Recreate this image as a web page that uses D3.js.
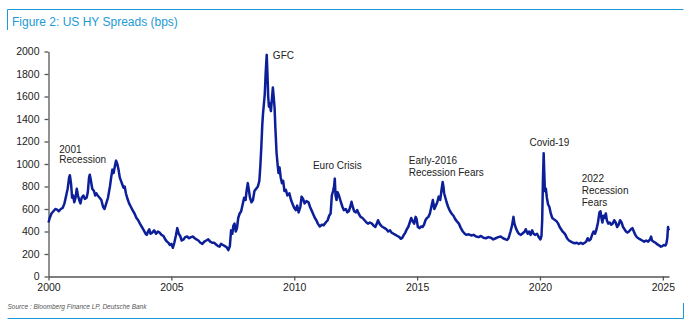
<!DOCTYPE html>
<html><head><meta charset="utf-8">
<script src="https://cdn.jsdelivr.net/npm/d3@7"></script>
<style>
html,body{margin:0;padding:0;background:#fff;}
svg{display:block;font-family:Arial,"Liberation Sans",sans-serif;}
</style></head>
<body><svg id="c" width="692" height="329"></svg>
<script>
// decimal year values
const years = [
2000.00,2000.05,2000.12,2000.20,2000.28,2000.35,2000.42,2000.50,2000.58,2000.65,2000.72,2000.78,2000.84,2000.87,2000.92,2000.96,
2001.00,2001.05,2001.10,2001.15,2001.20,2001.25,2001.30,2001.35,2001.42,2001.48,2001.55,2001.60,2001.65,2001.68,2001.72,2001.78,2001.85,2001.90,2001.95,
2002.00,2002.08,2002.15,2002.22,2002.28,2002.35,2002.42,2002.50,2002.55,2002.60,2002.65,2002.70,2002.75,2002.80,2002.85,2002.90,2002.95,
2003.00,2003.05,2003.10,2003.15,2003.20,2003.28,2003.35,2003.42,2003.50,2003.58,2003.65,2003.72,2003.80,2003.88,2003.95,
2004.00,2004.05,2004.10,2004.15,2004.22,2004.30,2004.38,2004.45,2004.52,2004.60,2004.68,2004.75,2004.82,2004.88,2004.94,
2005.00,2005.06,2005.12,2005.18,2005.24,2005.30,2005.36,2005.42,2005.50,2005.56,2005.64,2005.72,2005.80,2005.88,2005.95,
2006.02,2006.10,2006.18,2006.26,2006.34,2006.42,2006.50,2006.58,2006.66,2006.74,2006.82,2006.90,2006.96,
2007.02,2007.10,2007.18,2007.25,2007.32,2007.38,2007.43,2007.48,2007.52,2007.57,2007.62,2007.67,2007.72,2007.78,2007.84,2007.90,2007.96,
2008.02,2008.06,2008.11,2008.16,2008.20,2008.26,2008.32,2008.38,2008.45,2008.52,2008.58,2008.62,2008.66,2008.70,2008.73,2008.76,2008.80,2008.84,2008.88,2008.91,2008.94,2008.97,
2009.00,2009.05,2009.10,2009.13,2009.17,2009.20,2009.23,2009.28,2009.33,2009.36,2009.40,2009.45,2009.50,2009.55,2009.60,2009.66,2009.72,2009.80,2009.87,2009.94,
2010.00,2010.07,2010.12,2010.18,2010.25,2010.30,2010.36,2010.42,2010.50,2010.58,2010.64,2010.70,2010.76,2010.84,2010.90,2010.96,
2011.04,2011.12,2011.20,2011.28,2011.36,2011.42,2011.48,2011.53,2011.58,2011.62,2011.65,2011.68,2011.72,2011.76,2011.82,2011.90,2011.96,
2012.02,2012.10,2012.16,2012.22,2012.28,2012.33,2012.38,2012.44,2012.50,2012.56,2012.62,2012.70,2012.78,2012.86,2012.94,
2013.00,2013.08,2013.16,2013.24,2013.30,2013.36,2013.41,2013.47,2013.54,2013.60,2013.68,2013.75,2013.82,2013.90,2013.96,
2014.04,2014.12,2014.20,2014.28,2014.34,2014.40,2014.46,2014.52,2014.58,2014.64,2014.70,2014.76,2014.82,2014.88,2014.94,2014.98,
2015.03,2015.10,2015.16,2015.22,2015.28,2015.34,2015.40,2015.46,2015.52,2015.58,2015.64,2015.70,2015.76,2015.82,2015.88,2015.94,
2016.00,2016.04,2016.07,2016.10,2016.15,2016.20,2016.26,2016.32,2016.40,2016.48,2016.55,2016.62,2016.70,2016.78,2016.86,2016.94,
2017.00,2017.10,2017.20,2017.30,2017.40,2017.50,2017.60,2017.70,2017.80,2017.90,
2018.00,2018.10,2018.20,2018.30,2018.40,2018.50,2018.60,2018.66,2018.72,2018.80,2018.86,2018.92,2018.96,
2019.02,2019.08,2019.14,2019.22,2019.30,2019.38,2019.42,2019.50,2019.56,2019.62,2019.68,2019.74,2019.80,2019.88,2019.95,
2020.02,2020.06,2020.09,2020.12,2020.15,2020.17,2020.20,2020.24,2020.28,2020.33,2020.38,2020.44,2020.50,2020.56,2020.62,2020.68,2020.74,2020.80,2020.86,2020.92,2020.97,
2021.04,2021.10,2021.18,2021.26,2021.34,2021.42,2021.50,2021.58,2021.66,2021.74,2021.82,2021.88,2021.94,
2022.00,2022.06,2022.12,2022.18,2022.24,2022.30,2022.36,2022.42,2022.46,2022.50,2022.54,2022.58,2022.62,2022.68,2022.72,2022.78,2022.84,2022.90,2022.96,
2023.02,2023.08,2023.14,2023.20,2023.26,2023.32,2023.38,2023.44,2023.50,2023.56,2023.62,2023.70,2023.76,2023.82,2023.88,2023.94,
2024.00,2024.08,2024.16,2024.24,2024.32,2024.40,2024.48,2024.52,2024.56,2024.62,2024.70,2024.78,2024.86,2024.92,2024.98,
2025.04,2025.10,2025.14,2025.18,2025.21,2025.23,2025.25
];
// spread in bps
const spreads = [
480,520,560,580,600,595,580,600,610,650,720,780,880,900,820,700,
720,660,700,780,720,680,650,700,720,690,700,750,880,905,860,780,760,720,740,
720,700,680,620,600,650,700,800,880,950,920,980,1030,1000,950,880,850,
820,790,800,740,700,650,620,590,560,520,500,470,440,410,380,
370,400,420,380,390,410,380,400,390,370,360,330,310,300,280,
290,255,300,360,430,380,360,320,330,350,355,340,350,355,340,
330,320,300,290,310,320,330,310,300,300,285,270,265,
290,280,270,260,235,270,410,380,450,470,400,430,520,560,580,640,700,
680,760,830,760,700,660,680,760,780,800,850,980,1150,1350,1450,1520,1620,1820,1970,1800,1600,1510,
1540,1470,1600,1680,1580,1500,1330,1100,980,920,970,880,830,850,760,770,720,740,680,640,
610,590,630,570,620,710,690,650,670,660,620,590,560,520,500,470,
445,460,455,480,500,540,560,720,760,800,870,720,680,750,720,660,620,
590,600,570,580,620,665,620,580,570,590,560,530,520,500,480,
470,480,470,450,440,470,500,470,450,440,430,420,400,410,390,
380,370,360,350,335,345,370,390,420,440,480,520,490,470,530,510,
440,430,445,440,460,500,520,530,560,620,680,600,630,660,710,680,
780,840,800,740,700,660,620,590,560,540,510,490,470,430,400,380,
370,375,365,370,355,350,360,345,340,350,
345,330,340,350,355,340,330,325,340,400,450,530,470,
430,400,380,370,385,400,420,380,400,370,410,380,370,380,350,
330,360,500,850,1095,950,760,780,700,640,620,560,520,510,500,490,470,440,420,400,390,
370,340,320,310,300,295,300,290,300,290,300,310,340,
320,330,370,400,380,420,480,570,580,520,480,540,520,560,500,470,480,460,470,
500,480,440,460,500,480,440,420,400,390,400,420,430,400,370,350,
340,330,320,310,320,310,330,355,320,310,300,285,275,265,270,
280,275,290,340,440,420,410
];
const xTicks = [2000,2005,2010,2015,2020,2025];
const yTicks = [0,200,400,600,800,1000,1200,1400,1600,1800,2000];
const titleText = "Figure 2: US HY Spreads (bps)";
const sourceText = "Source : Bloomberg Finance LP, Deutsche Bank";
const notes = [
  {lines:["2001","Recession"], x:2000.44, y:[1100,1010]},
  {lines:["GFC"], x:2009.13, y:[1930]},
  {lines:["Euro Crisis"], x:2010.76, y:[960]},
  {lines:["Early-2016","Recession Fears"], x:2014.66, y:[1000,890]},
  {lines:["Covid-19"], x:2019.57, y:[1160]},
  {lines:["2022","Recession","Fears"], x:2021.70, y:[840,730,625]}
];

const data = years.map((d,i)=>({t:d, v:spreads[i]}));
const svg = d3.select("#c");
const blue = "#1d9ad6";

// frame
svg.append("path").attr("d","M7.5,30 V9.5 H683.5").attr("fill","none").attr("stroke",blue).attr("stroke-width",1);
svg.append("path").attr("d","M7.5,318.5 H683.5 V303").attr("fill","none").attr("stroke",blue).attr("stroke-width",1);
svg.append("text").attr("x",12).attr("y",26).attr("fill",blue).attr("font-size",12).text(titleText);
svg.append("text").attr("x",7.5).attr("y",308.5).attr("fill","#555").attr("font-size",6.5).attr("font-style","italic").text(sourceText);

const x = d3.scaleLinear().domain([2000,2025.25]).range([48.5,669]);
const y = d3.scaleLinear().domain([0,2000]).range([276.5,51.5]);

const gx = svg.append("g").attr("transform","translate(0,276.5)")
  .call(d3.axisBottom(x).tickValues(xTicks).tickFormat(d3.format("d")).tickSize(4).tickSizeOuter(0).tickPadding(3.5));
const gy = svg.append("g").attr("transform","translate(48.5,0)")
  .call(d3.axisLeft(y).tickValues(yTicks).tickFormat(d3.format("d")).tickSize(4).tickSizeOuter(0).tickPadding(5));
[gx,gy].forEach(g=>{
  g.selectAll(".domain").attr("stroke","#555").attr("stroke-width",1.3);
  g.selectAll(".tick line").attr("stroke","#555").attr("stroke-width",1.3);
  g.selectAll("text").attr("fill","#222").attr("font-size",10.5).attr("font-family","Arial,'Liberation Sans',sans-serif");
});

const line = d3.line().x(d=>x(d.t)).y(d=>y(d.v));
svg.append("path").datum(data).attr("d",line).attr("fill","none")
  .attr("stroke","#0c1f99").attr("stroke-width",2.5).attr("stroke-linejoin","round");

notes.forEach(n=>{
  n.lines.forEach((s,i)=>{
    svg.append("text").attr("x",x(n.x)).attr("y",y(n.y[i])).attr("fill","#222").attr("font-size",10).text(s);
  });
});
</script></body></html>
